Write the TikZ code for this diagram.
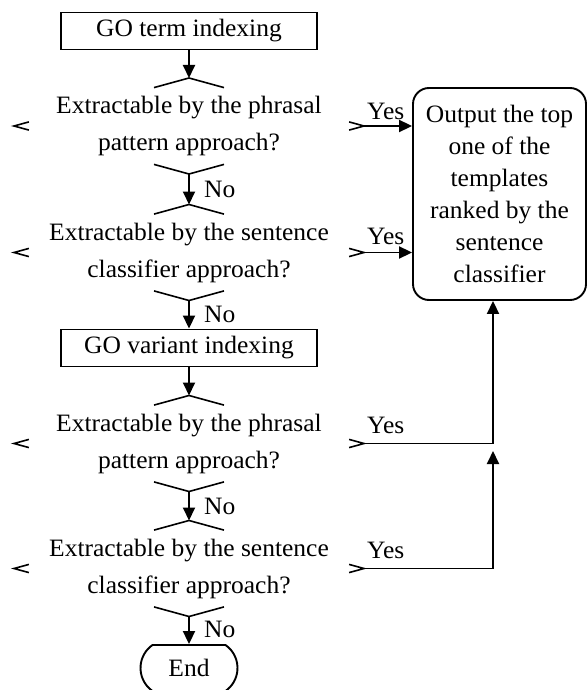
\documentclass[tikz,border=0pt]{standalone}
\usepackage{fontspec}
\setmainfont{Liberation Serif}[FakeStretch=1.02]
\usetikzlibrary{arrows.meta,calc,shapes.misc}
\tikzset{
  conn/.style={line width=1.9pt, -{Triangle[length=13pt,width=12pt]}},
  frag/.style={line width=1.6pt},
  procbox/.style={draw, line width=1.9pt, minimum width=256pt, minimum height=37pt, inner sep=0pt, font=\fontsize{25}{32}\selectfont},
  dectext/.style={align=center, inner sep=0pt, font=\fontsize{25}{37}\selectfont},
  outbox/.style={draw, line width=1.9pt, rounded corners=16pt, minimum width=173pt, minimum height=212pt, align=center, inner sep=0pt, font=\fontsize{25}{32}\selectfont},
  endbox/.style={draw, line width=1.9pt, rounded rectangle, rounded rectangle arc length=110, minimum width=97pt, minimum height=46pt, inner sep=0pt, font=\fontsize{25}{32}\selectfont},
  lbl/.style={inner sep=0pt, font=\fontsize{25}{32}\selectfont}
}
\newcommand\decisionnode[4]{%
  \node[dectext] (#1) at (#2,#3) {#4};
  \coordinate (#1n) at (#2,#3-48);
  \coordinate (#1s) at (#2,#3+48);
  \coordinate (#1w) at (#2-175,#3);
  \coordinate (#1e) at (#2+175,#3);
  \draw[frag] ($(#1n)!0.2!(#1w)$) -- (#1n) -- ($(#1n)!0.2!(#1e)$);
  \draw[frag] ($(#1s)!0.2!(#1w)$) -- (#1s) -- ($(#1s)!0.2!(#1e)$);
  \draw[frag] ($(#1w)!0.085!(#1n)$) -- (#1w) -- ($(#1w)!0.085!(#1s)$);
  \draw[frag] ($(#1e)!0.085!(#1n)$) -- (#1e) -- ($(#1e)!0.085!(#1s)$);
}
\begin{document}
\begin{tikzpicture}[x=1pt,y=-1pt]
\useasboundingbox (0,0) rectangle (588,690);
\node[procbox] (b1) at (189,31) {GO term indexing};
\decisionnode{d1}{189}{126}{Extractable by the phrasal\\pattern approach?}
\decisionnode{d2}{189}{252.5}{Extractable by the sentence\\classifier approach?}
\node[procbox] (b2) at (189,348) {GO variant indexing};
\decisionnode{d3}{189}{443.5}{Extractable by the phrasal\\pattern approach?}
\decisionnode{d4}{189}{568.5}{Extractable by the sentence\\classifier approach?}
\node[endbox] (end) at (189,668) {End};
\node[outbox] (out) at (499.5,194) {Output the top\\one of the\\templates\\ranked by the\\sentence\\classifier};
\coordinate (j3) at (493,443.5);
\coordinate (j4) at (493,568.5);
\coordinate (j3b) at (493,451);
% vertical flow
\draw[conn] (b1.south) -- (d1n);
\draw[conn] (d1s) -- (d2n);
\draw[conn] (d2s) -- (b2.north);
\draw[conn] (b2.south) -- (d3n);
\draw[conn] (d3s) -- (d4n);
\draw[conn] (d4s) -- (end.north);
% No labels
\node[lbl, anchor=base west] at ($(d2n)+(15,-7)$) {No};
\node[lbl, anchor=base west] at ($(b2.north)+(15,-6)$) {No};
\node[lbl, anchor=base west] at ($(d4n)+(15,-6)$) {No};
\node[lbl, anchor=base west] at ($(end.north)+(15,-7)$) {No};
% Yes branches
\draw[conn] (d1e) -- (d1e -| out.west);
\draw[conn] (d2e) -- (d2e -| out.west);
\draw[conn] (d3e) -- (j3) -- (j3 |- out.south);
\draw[conn] (d4e) -- (j4) -- (j3b);
\node[lbl, anchor=base west] at ($(d1e)+(3,-6)$) {Yes};
\node[lbl, anchor=base west] at ($(d2e)+(3,-8)$) {Yes};
\node[lbl, anchor=base west] at ($(d3e)+(3,-10)$) {Yes};
\node[lbl, anchor=base west] at ($(d4e)+(3,-10)$) {Yes};
\end{tikzpicture}
\end{document}
